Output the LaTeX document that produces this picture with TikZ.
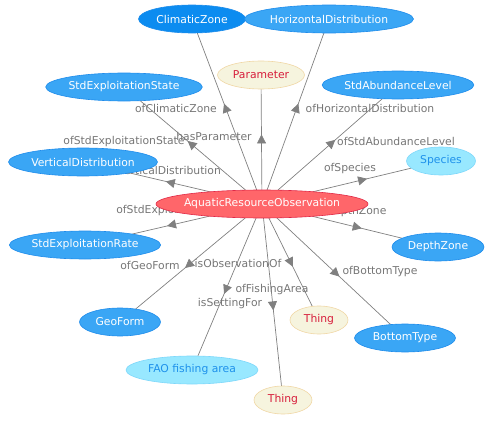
\documentclass[tikz,border=0pt]{standalone}
\usepackage{fontspec}
\setmainfont{DejaVu Sans}
\usetikzlibrary{shapes.geometric, arrows.meta, decorations.markings, backgrounds}

\definecolor{clsfill}{RGB}{58,166,245}
\definecolor{clsdraw}{RGB}{30,140,235}
\definecolor{selfill}{RGB}{12,140,240}
\definecolor{insfill}{RGB}{152,232,255}
\definecolor{insdraw}{RGB}{125,215,250}
\definecolor{instext}{RGB}{30,145,235}
\definecolor{thgfill}{RGB}{246,244,222}
\definecolor{thgdraw}{RGB}{240,215,165}
\definecolor{thgtext}{RGB}{215,30,60}
\definecolor{obsfill}{RGB}{255,102,106}
\definecolor{obsdraw}{RGB}{225,40,70}
\definecolor{linkgrey}{RGB}{128,128,128}
\definecolor{labelgrey}{RGB}{118,118,118}

\tikzset{
  concept/.style={ellipse, inner sep=0pt, outer sep=0pt, minimum height=28pt, line width=0.6pt},
  cls/.style={concept, fill=clsfill, draw=clsdraw, text=white},
  selcls/.style={concept, fill=selfill, draw=clsdraw, text=white},
  ins/.style={concept, fill=insfill, draw=insdraw, text=instext},
  thing/.style={concept, fill=thgfill, draw=thgdraw, text=thgtext},
  focus/.style={concept, inner xsep=-4pt, fill=obsfill, draw=obsdraw, text=white},
  link/.style={draw=linkgrey, line width=0.7pt, postaction={decorate},
    decoration={markings, mark=at position 0.55 with {\arrow[linkgrey]{Triangle[width=9pt,length=9pt]}}}},
  linklabel/.style={text=labelgrey, inner sep=0pt},
}

\begin{document}
\begin{tikzpicture}[x=1pt, y=-1pt, font=\fontsize{10.8}{13}\selectfont]
  \useasboundingbox (0,0) rectangle (491,423);

  % central observation
  \node[focus, minimum width=212pt] (obs) at (262,204) {AquaticResourceObservation};

  % upper concepts
  \node[selcls, minimum width=107pt] (cz) at (192,19) {ClimaticZone};
  \node[cls, minimum width=169pt] (hd) at (329,19) {HorizontalDistribution};
  \node[thing, minimum width=87pt] (par) at (261,75) {Parameter};
  \node[cls, minimum width=154pt] (ses) at (124,87) {StdExploitationState};
  \node[cls, minimum width=148pt] (sal) at (398,85) {StdAbundanceLevel};

  % side concepts
  \node[cls, minimum width=149pt] (vd) at (83,162) {VerticalDistribution};
  \node[ins, minimum width=69pt] (sp) at (441,161) {Species};
  \node[cls, minimum width=151pt] (ser) at (85,245) {StdExploitationRate};
  \node[cls, minimum width=92pt] (dz) at (438,247) {DepthZone};

  % lower concepts
  \node[cls, minimum width=81pt] (gf) at (120,322) {GeoForm};
  \node[thing, minimum width=58pt] (thA) at (319,320) {Thing};
  \node[cls, minimum width=101pt] (bt) at (405,338) {BottomType};
  \node[ins, minimum width=132pt] (fao) at (192,370) {FAO fishing area};
  \node[thing, minimum width=58pt] (thB) at (283,400) {Thing};

  \begin{scope}[on background layer]
    % links from the observation
    \draw[link] (obs) -- (cz);
    \draw[link] (obs) -- (par);
    \draw[link] (obs) -- (hd);
    \draw[link] (obs) -- (ses);
    \draw[link] (obs) -- (sal);
    \draw[link] (obs) -- (vd);
    \draw[link] (obs) -- (sp);
    \draw[link] (obs) -- (ser);
    \draw[link] (obs) -- (dz);
    \draw[link] (obs) -- (gf);
    \draw[link] (obs) -- (thA);
    \draw[link] (obs) -- (bt);
    \draw[link] (obs) -- (fao);
    \draw[link] (obs) -- (thB);

    % link labels
    \node[linklabel] (l-cz) at (176,108) {ofClimaticZone};
    \node[linklabel] (l-par) at (214,136) {hasParameter};
    \node[linklabel] (l-hd) at (370,108) {ofHorizontalDistribution};
    \node[linklabel] (l-ses) at (124,142) {ofStdExploitationState};
    \node[linklabel] (l-sal) at (396,141) {ofStdAbundanceLevel};
    \node[linklabel] (l-vd) at (164,170) {ofVerticalDistribution};
    \node[linklabel] (l-sp) at (350,169) {ofSpecies};
    \node[linklabel] (l-ser) at (175,211) {ofStdExploitationRate};
    \node[linklabel] (l-dz) at (351,212) {ofDepthZone};
    \node[linklabel] (l-gf) at (150,265) {ofGeoForm};
    \node[linklabel] (l-thA) at (238,263) {isObservationOf};
    \node[linklabel] (l-bt) at (380,272) {ofBottomType};
    \node[linklabel] (l-fao) at (272,290) {ofFishingArea};
    \node[linklabel] (l-thB) at (230,304) {isSettingFor};
  \end{scope}
\end{tikzpicture}
\end{document}
